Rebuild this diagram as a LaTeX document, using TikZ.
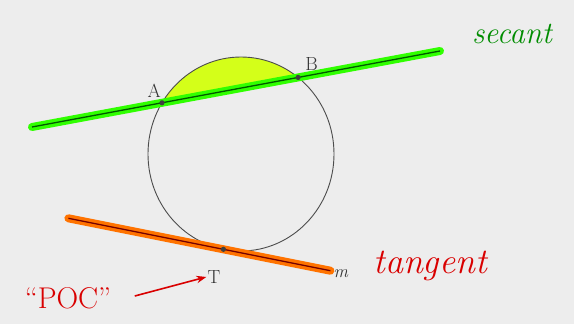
\documentclass[tikz,border=0pt]{standalone}
\usepackage{tikz}
\usetikzlibrary{arrows.meta, positioning, intersections, calc}

\begin{document}
\begin{tikzpicture}[
    x=1pt, y=-1pt,
    circ/.style={draw=black!70, line width=0.9pt},
    markgreen/.style={line width=8pt, green!75!lime, line cap=round},
    markorange/.style={line width=8pt, orange!90!red, line cap=round},
    inkgreen/.style={line width=1.3pt, green!35!black},
    inkorange/.style={line width=1.3pt, red!45!black},
    dotpt/.style={fill=black!75},
    ptlabel/.style={font=\fontsize{19}{19}\selectfont, text=black!80, inner sep=1pt},
    handgreen/.style={font=\fontsize{31}{31}\selectfont\itshape, text=green!55!black},
    handred/.style={font=\fontsize{36}{36}\selectfont\itshape, text=red!85!black},
    arrred/.style={-{Stealth[length=3.5mm]}, line width=1.6pt, red!85!black},
  ]
    \useasboundingbox[fill=black!7] (0,0) rectangle (574,324);
    \coordinate (O) at (241,154);
    \coordinate (secL) at (32,127);
    \coordinate (secR) at (440,51);
    \coordinate (T) at (223.4,249.3);
    \coordinate (tanL) at ($(T)+(-155,-31)$);
    \coordinate (tanR) at ($(T)+(107,21.4)$);
    \path[name path=secline] (secL) -- (secR);
    \path[name path=circline] (O) ellipse[x radius=93, y radius=97];
    \path[name intersections={of=secline and circline, sort by=secline, by={A,B}}];
    \begin{scope}
      \clip (O) ellipse[x radius=93, y radius=97];
      \fill[lime!75!yellow!90!white] (secL) -- (secR) -- (440,0) -- (32,0) -- cycle;
    \end{scope}
    \draw[circ] (O) ellipse[x radius=93, y radius=97];
    \draw[markgreen] (secL) -- (secR);
    \draw[inkgreen] (secL) -- (secR);
    \draw[markorange] (tanL) -- (tanR);
    \draw[inkorange] (tanL) -- (tanR);
    \fill[dotpt] (A) circle[radius=2.6];
    \fill[dotpt] (B) circle[radius=2.6];
    \fill[dotpt] (T) circle[radius=2.6];
    \node[ptlabel, above left=4pt and 0pt of A] (lblA) {A};
    \node[ptlabel, above right=6pt and 6pt of B] (lblB) {B};
    \node[ptlabel, below left=20pt and 2pt of T] (lblT) {T};
    \node[ptlabel, right=2pt of tanR, font=\fontsize{18}{18}\selectfont\itshape, yshift=-3pt] (lblm) {m};
    \node[handgreen] (secant) at (512,34) {secant};
    \node[handred] (tangent) at (430,266) {tangent};
    \node[handred, font=\fontsize{30}{30}\selectfont] (poc) at (68,298) {``POC''};
    \draw[arrred] (poc.east) ++(20pt,2pt) coordinate (pocA) (pocA) -- (lblT.west);
  \end{tikzpicture}
\end{document}
